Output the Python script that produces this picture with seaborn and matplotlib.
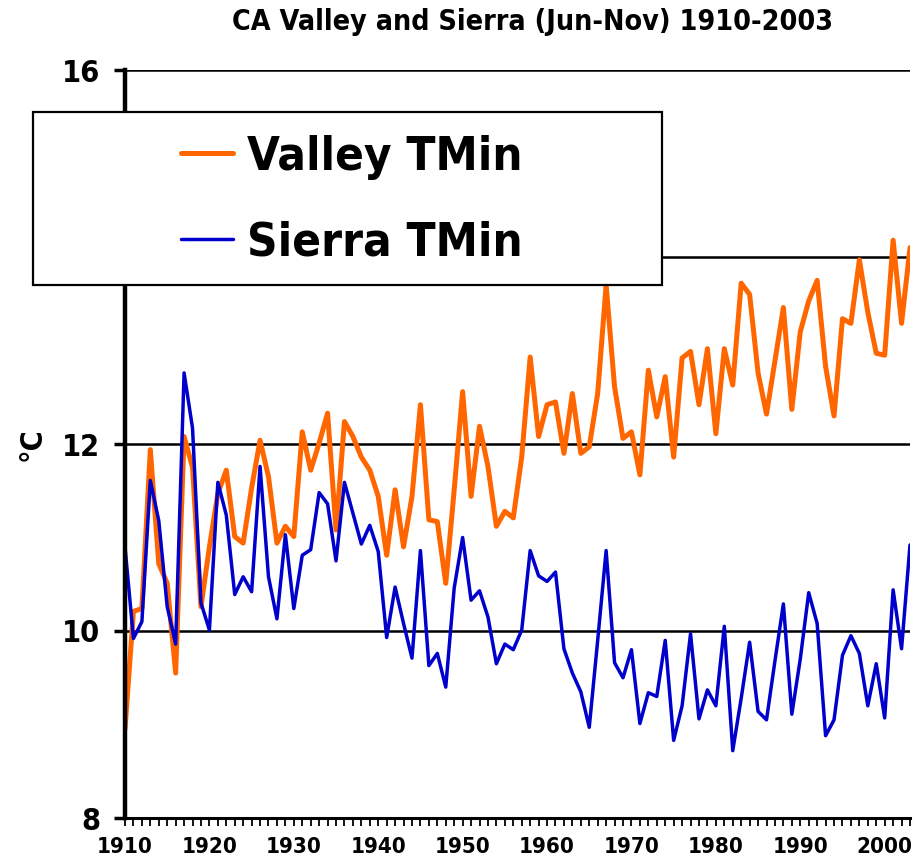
import matplotlib
matplotlib.use('Agg')
import matplotlib.pyplot as plt
import seaborn as sns
import numpy as np
import pandas as pd
from matplotlib.patches import Rectangle
from matplotlib.ticker import MultipleLocator

# data (Jun-Nov mean minimum temperature, degC)
years = list(range(1910, 2004))
valley_tmin = [8.95, 10.21, 10.24, 11.94, 10.72, 10.51, 9.55, 12.08, 11.75, 10.26,
               10.90, 11.47, 11.72, 11.01, 10.94, 11.53, 12.04, 11.65, 10.94, 11.12,
               11.01, 12.13, 11.72, 12.01, 12.33, 11.08, 12.24, 12.08, 11.86, 11.72,
               11.44, 10.81, 11.51, 10.90, 11.44, 12.42, 11.19, 11.17, 10.51, 11.51,
               12.56, 11.44, 12.19, 11.76, 11.12, 11.28, 11.21, 11.86, 12.93, 12.08,
               12.42, 12.45, 11.90, 12.54, 11.90, 11.97, 12.54, 13.70, 12.61, 12.06,
               12.13, 11.67, 12.79, 12.29, 12.72, 11.86, 12.92, 12.99, 12.42, 13.02,
               12.11, 13.02, 12.63, 13.72, 13.60, 12.76, 12.32, 12.89, 13.46, 12.37,
               13.20, 13.53, 13.75, 12.83, 12.30, 13.34, 13.29, 13.97, 13.41, 12.97,
               12.95, 14.18, 13.29, 14.10]
sierra_tmin = [10.90, 9.92, 10.10, 11.61, 11.18, 10.26, 9.86, 12.76, 12.17, 10.30,
               10.01, 11.59, 11.24, 10.39, 10.58, 10.42, 11.76, 10.58, 10.13, 11.03,
               10.24, 10.81, 10.87, 11.48, 11.36, 10.75, 11.59, 11.26, 10.93, 11.13,
               10.85, 9.93, 10.47, 10.08, 9.71, 10.86, 9.63, 9.76, 9.40, 10.46,
               11.00, 10.33, 10.43, 10.15, 9.65, 9.86, 9.80, 10.01, 10.86, 10.59,
               10.53, 10.63, 9.81, 9.55, 9.35, 8.97, 9.90, 10.86, 9.66, 9.50,
               9.80, 9.01, 9.34, 9.30, 9.90, 8.83, 9.20, 9.97, 9.06, 9.37,
               9.20, 10.05, 8.72, 9.28, 9.88, 9.14, 9.05, 9.68, 10.29, 9.11,
               9.70, 10.41, 10.08, 8.88, 9.05, 9.74, 9.95, 9.76, 9.20, 9.65,
               9.07, 10.44, 9.81, 10.92]
series_names = ['Valley TMin', 'Sierra TMin']
y_ticks = [8, 10, 12, 14, 16]
x_labels = list(range(1910, 2001, 10))

df_valley = pd.DataFrame({'Year': years, 'TMin': valley_tmin})
df_sierra = pd.DataFrame({'Year': years, 'TMin': sierra_tmin})

sns.set_style('white')
plt.rcParams['font.family'] = ['DejaVu Sans']
plt.rcParams['font.stretch'] = 'condensed'
plt.rcParams['font.weight'] = 'bold'
for key in ['text.color', 'axes.labelcolor', 'xtick.color', 'ytick.color']:
    plt.rcParams[key] = 'black'

fig = plt.figure(figsize=(9.16, 8.64), dpi=100)
ax = fig.add_axes([125 / 916, 1 - 818 / 864, 785 / 916, 748 / 864])

sns.lineplot(data=df_valley, x='Year', y='TMin', ax=ax, color='#FF6600',
             linewidth=3.6, label=series_names[0], legend=False)
sns.lineplot(data=df_sierra, x='Year', y='TMin', ax=ax, color='#0000CC',
             linewidth=2.5, label=series_names[1], legend=False)

ax.set_xlim(1910, 2003)
ax.set_ylim(8, 16)
ax.set_yticks(y_ticks)
ax.set_xticks(x_labels)
ax.xaxis.set_minor_locator(MultipleLocator(1))
ax.tick_params(axis='y', which='major', direction='out', length=8, width=2.5,
               labelsize=22, pad=10, left=True)
ax.tick_params(axis='x', which='both', direction='out', length=6, width=1.3,
               labelsize=16, pad=8, bottom=True)
for lbl in ax.get_xticklabels() + ax.get_yticklabels():
    lbl.set_fontweight('bold')

ax.grid(True, axis='y', color='black', linewidth=1.8)
ax.set_axisbelow(True)
for side in ['top', 'right']:
    ax.spines[side].set_visible(False)
ax.spines['left'].set_linewidth(3.2)
ax.spines['bottom'].set_linewidth(2.2)
ax.spines['left'].set_color('black')
ax.spines['bottom'].set_color('black')

ax.set_xlabel('')
ax.set_ylabel('°C', fontsize=22, fontweight='bold')
ax.yaxis.set_label_coords(-0.1, 0.5)

fig.text(533 / 916, 1 - 22 / 864, 'CA Valley and Sierra (Jun-Nov) 1910-2003',
         ha='center', va='center', fontsize=20.5, fontweight='bold')

# legend box drawn above the axes
box = Rectangle((33 / 916, 1 - 285 / 864), 629 / 916, 173 / 864,
                transform=fig.transFigure, facecolor='white', edgecolor='black',
                linewidth=1.6, zorder=3)
fig.patches.append(box)
handles, labels = ax.get_legend_handles_labels()
leg = fig.legend(handles, labels, loc='center', bbox_to_anchor=(352 / 916, 1 - 200 / 864),
                 frameon=False, handlelength=1.1, handletextpad=0.3, labelspacing=0.85,
                 prop={'weight': 'bold', 'size': 34, 'stretch': 'condensed'})
leg.set_zorder(4)

fig.savefig('out.png', dpi=100)
